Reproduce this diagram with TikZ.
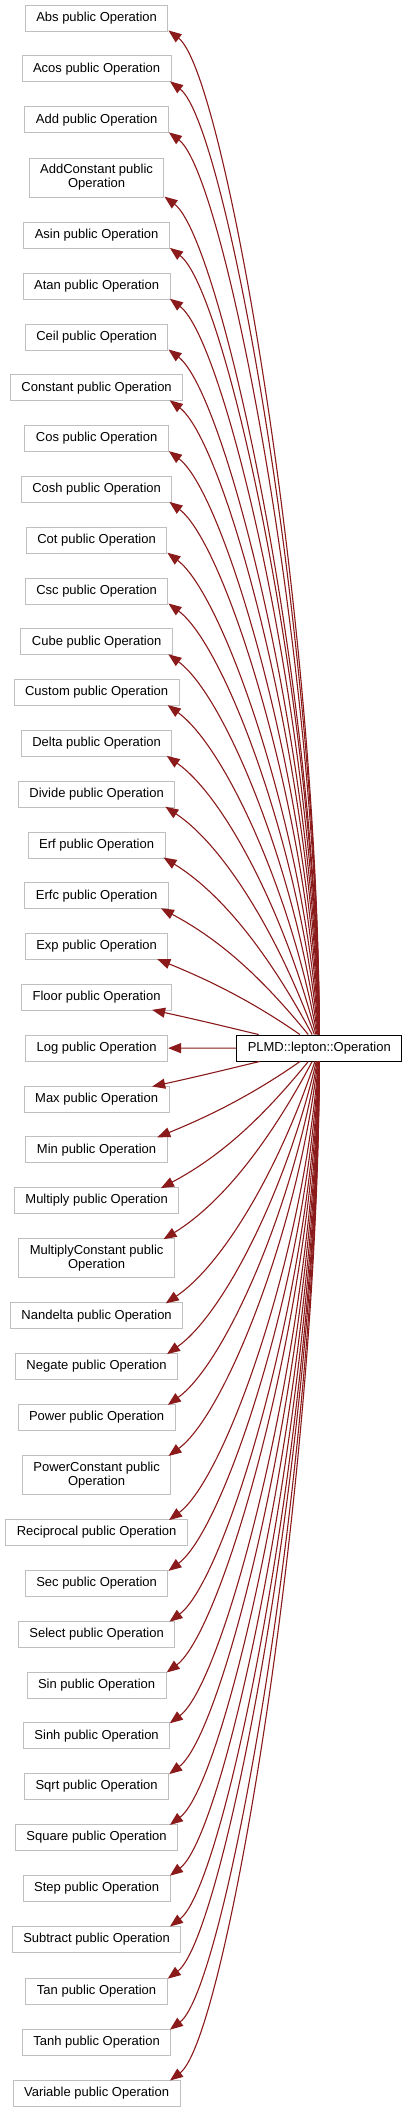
\documentclass[tikz,border=0pt]{standalone}
\usepackage{fontspec}
\setmainfont{Liberation Sans}
\usetikzlibrary{arrows.meta,calc}
\definecolor{clsborder}{HTML}{BFBFBF}
\definecolor{edgecol}{HTML}{8B1A1A}
\tikzset{
  cls/.style={draw=clsborder, fill=white, line width=1pt, minimum height=26pt,
    inner xsep=11pt, inner ysep=3pt, font=\fontsize{13pt}{14pt}\selectfont, align=center},
  cls2/.style={cls, minimum height=39pt},
  mainbox/.style={cls, draw=black},
  edge/.style={draw=edgecol, line width=1.1pt, -{Triangle[length=13pt,width=10pt]}},
}
\newcommand{\opedge}[3]{%
  \draw[edge] let \p1=(#1.#2), \p2=(main.center),
    \n{ty}={scalar(\y1+(#3)*1)},
    \n{cx}={scalar(\x2)},
    \n{cy}={scalar(\y2)},
    \n{dt}={abs(\n{ty}-\n{cy})},
    \n{tx}={min(scalar(\x1),170-18*exp(-(\n{dt}-37)/150))},
    \n{dx}={\n{cx}-\n{tx}},
    \n{D}={100*veclen(\n{dt}/100,\n{dx}/100)},
    \n{phi}={90-78*exp(-(\n{dt}-37)/150)},
    \n{th}={12+25*(1-exp(-(\n{dt}-37)/100))},
    \n{la}={0.42*\n{D}},
    \n{lb}={min(70,0.33*\n{D})}
  in (main) .. controls ({(\n{cx}-\n{la}*cos(\n{phi}))*1pt},{(\n{cy}+(#3)*\n{la}*sin(\n{phi}))*1pt})
            and ({(\n{tx}+\n{lb}*cos(\n{th}))*1pt},{(\n{ty}-(#3)*\n{lb}*sin(\n{th}))*1pt})
         .. ({\n{tx}*1pt},{\n{ty}*1pt});
}
\begin{document}
\begin{tikzpicture}[x=1pt,y=-1pt]
\fill[white] (0,0) rectangle (408,2112);
\useasboundingbox (0,0) rectangle (408,2112);
\node[mainbox] (main) at (319.3,1048) {PLMD::lepton::Operation};
\node[cls] (nAbs) at (96.6,18.0) {Abs public Operation};
\node[cls] (nAcos) at (96.6,68.9) {Acos public Operation};
\node[cls] (nAdd) at (96.6,119.8) {Add public Operation};
\node[cls2] (nAddConstant) at (96.6,177.6) {AddConstant public\\Operation};
\node[cls] (nAsin) at (96.6,235.4) {Asin public Operation};
\node[cls] (nAtan) at (96.6,286.2) {Atan public Operation};
\node[cls] (nCeil) at (96.6,337.0) {Ceil public Operation};
\node[cls] (nConstant) at (96.6,387.8) {Constant public Operation};
\node[cls] (nCos) at (96.6,438.6) {Cos public Operation};
\node[cls] (nCosh) at (96.6,489.4) {Cosh public Operation};
\node[cls] (nCot) at (96.6,540.2) {Cot public Operation};
\node[cls] (nCsc) at (96.6,591.0) {Csc public Operation};
\node[cls] (nCube) at (96.6,641.8) {Cube public Operation};
\node[cls] (nCustom) at (96.6,692.6) {Custom public Operation};
\node[cls] (nDelta) at (96.6,743.4) {Delta public Operation};
\node[cls] (nDivide) at (96.6,794.2) {Divide public Operation};
\node[cls] (nErf) at (96.6,845.0) {Erf public Operation};
\node[cls] (nErfc) at (96.6,895.8) {Erfc public Operation};
\node[cls] (nExp) at (96.6,946.6) {Exp public Operation};
\node[cls] (nFloor) at (96.6,997.4) {Floor public Operation};
\node[cls] (nLog) at (96.6,1048.2) {Log public Operation};
\node[cls] (nMax) at (96.6,1099.0) {Max public Operation};
\node[cls] (nMin) at (96.6,1149.8) {Min public Operation};
\node[cls] (nMultiply) at (96.6,1200.6) {Multiply public Operation};
\node[cls2] (nMultiplyConstant) at (96.6,1258.2) {MultiplyConstant public\\Operation};
\node[cls] (nNandelta) at (96.6,1315.8) {Nandelta public Operation};
\node[cls] (nNegate) at (96.6,1366.6) {Negate public Operation};
\node[cls] (nPower) at (96.6,1417.4) {Power public Operation};
\node[cls2] (nPowerConstant) at (96.6,1475.0) {PowerConstant public\\Operation};
\node[cls] (nReciprocal) at (96.6,1532.6) {Reciprocal public Operation};
\node[cls] (nSec) at (96.6,1583.4) {Sec public Operation};
\node[cls] (nSelect) at (96.6,1634.2) {Select public Operation};
\node[cls] (nSin) at (96.6,1685.0) {Sin public Operation};
\node[cls] (nSinh) at (96.6,1735.8) {Sinh public Operation};
\node[cls] (nSqrt) at (96.6,1786.6) {Sqrt public Operation};
\node[cls] (nSquare) at (96.6,1837.4) {Square public Operation};
\node[cls] (nStep) at (96.6,1888.2) {Step public Operation};
\node[cls] (nSubtract) at (96.6,1939.0) {Subtract public Operation};
\node[cls] (nTan) at (96.6,1991.2) {Tan public Operation};
\node[cls] (nTanh) at (96.6,2042.1) {Tanh public Operation};
\node[cls] (nVariable) at (96.6,2093.0) {Variable public Operation};
\foreach \c in {nAbs,nAcos,nAdd,nAddConstant,nAsin,nAtan,nCeil,nConstant,nCos,nCosh,nCot,nCsc,nCube,nCustom,nDelta,nDivide,nErf,nErfc,nExp,nFloor}{\opedge{\c}{south east}{1}}
\draw[edge] (main) -- (nLog);
\foreach \c in {nMax,nMin,nMultiply,nMultiplyConstant,nNandelta,nNegate,nPower,nPowerConstant,nReciprocal,nSec,nSelect,nSin,nSinh,nSqrt,nSquare,nStep,nSubtract,nTan,nTanh,nVariable}{\opedge{\c}{north east}{-1}}
\end{tikzpicture}
\end{document}
